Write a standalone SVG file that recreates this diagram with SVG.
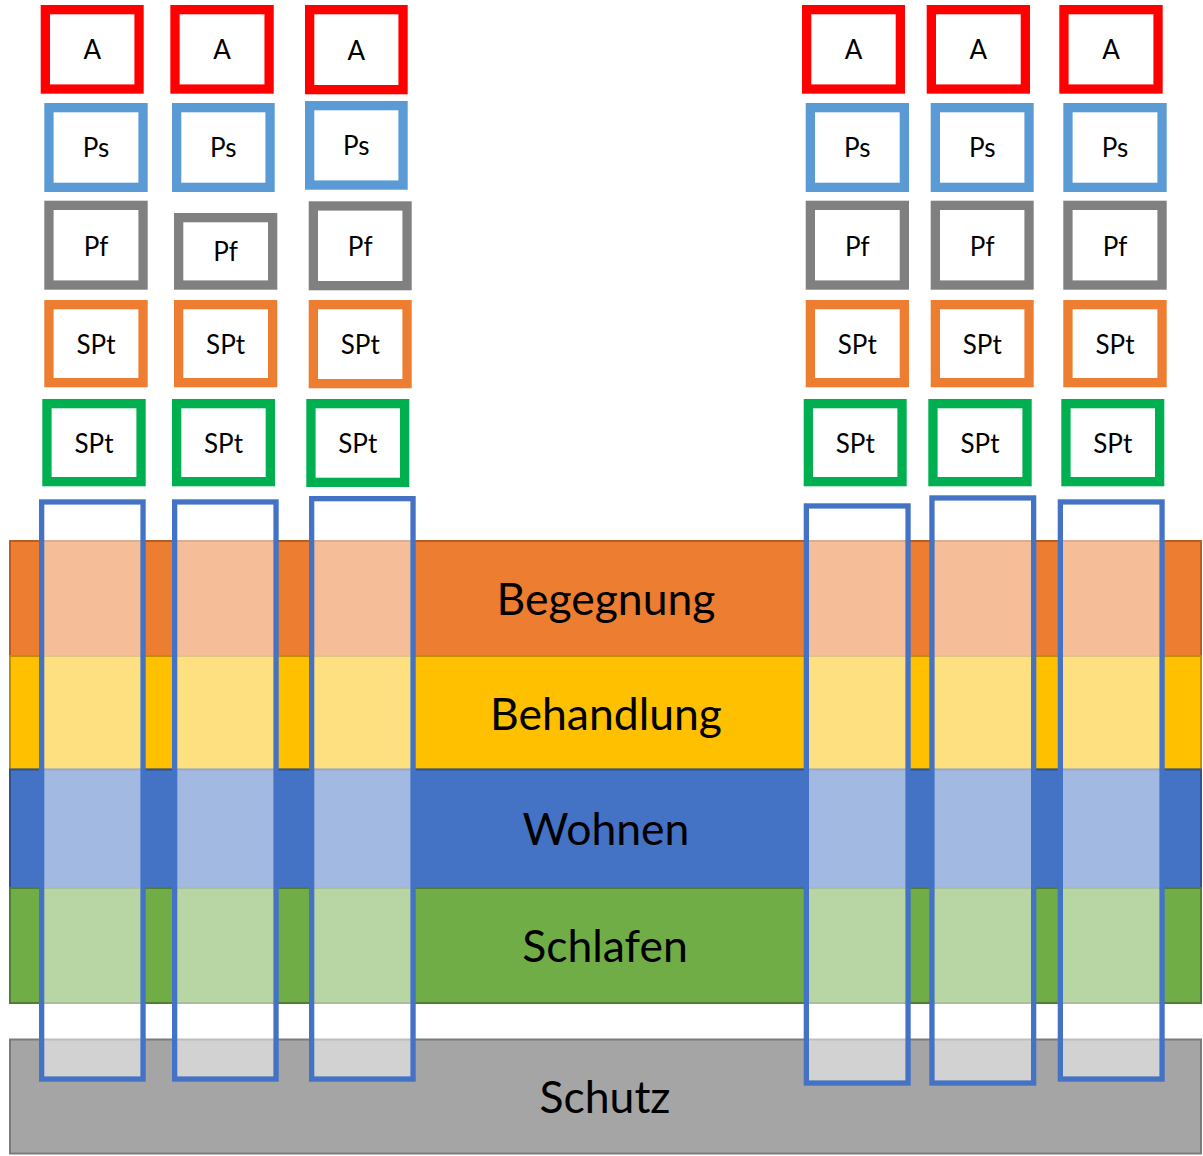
<svg xmlns="http://www.w3.org/2000/svg" width="1203" height="1156" viewBox="0 0 1203 1156">
<style>
.bx{fill:#fff;stroke-width:9.3}
.a{stroke:#FF0000}
.ps{stroke:#5B9BD5}
.pf{stroke:#808080}
.so{stroke:#ED7D31}
.sg{stroke:#00B050}
.t{font-family:Lato,"Open Sans","Liberation Sans",sans-serif;font-size:26px;fill:#000;text-anchor:middle}
.bt{font-family:Lato,"Open Sans","Liberation Sans",sans-serif;font-size:44.5px;fill:#000;text-anchor:middle}
.band{stroke-width:2}
.col{fill:#fff;fill-opacity:0.5;stroke:#4472C4;stroke-width:5.3}
</style>
<rect width="1203" height="1156" fill="#fff"/>
<g id="layers">
<g id="begegnung"><rect class="band" x="10" y="541" width="1191" height="115" fill="#ED7D31" stroke="#B55D22"/><text class="bt" x="606" y="615">Begegnung</text></g>
<g id="behandlung"><rect class="band" x="10" y="656" width="1191" height="113.5" fill="#FFC000" stroke="#BF8F00"/><text class="bt" x="606" y="730">Behandlung</text></g>
<g id="wohnen"><rect class="band" x="10" y="769.5" width="1191" height="118.5" fill="#4472C4" stroke="#2F528F"/><text class="bt" x="606" y="845">Wohnen</text></g>
<g id="schlafen"><rect class="band" x="10" y="888" width="1191" height="115" fill="#70AD47" stroke="#507E32"/><text class="bt" x="605" y="962">Schlafen</text></g>
<g id="schutz"><rect class="band" x="10" y="1039.5" width="1191" height="114" fill="#A5A5A5" stroke="#7B7B7B"/><text class="bt" x="605" y="1113">Schutz</text></g>
</g>
<g id="columns">
<rect id="col1" class="col" x="41.65" y="501.95" width="101.4" height="577.1"/>
<rect id="col2" class="col" x="174.65" y="501.95" width="101.4" height="577.1"/>
<rect id="col3" class="col" x="311.65" y="498.65" width="101.4" height="580.4"/>
<rect id="col4" class="col" x="806.35" y="505.95" width="101.7" height="577.1"/>
<rect id="col5" class="col" x="931.95" y="497.95" width="101.7" height="585.1"/>
<rect id="col6" class="col" x="1060.35" y="501.95" width="101.7" height="577.1"/>
</g>
<g id="c1a"><rect class="bx a" x="45.35" y="9.65" width="93.7" height="79.4"/><text class="t" x="92.2" y="59">A</text></g>
<g id="c1ps"><rect class="bx ps" x="48.95" y="107.65" width="94.1" height="79.7"/><text class="t" x="96" y="157">Ps</text></g>
<g id="c1pf"><rect class="bx pf" x="48.95" y="205.35" width="94.1" height="79.7"/><text class="t" x="96" y="256">Pf</text></g>
<g id="c1so"><rect class="bx so" x="48.95" y="304.65" width="94.1" height="78"/><text class="t" x="96" y="354">SPt</text></g>
<g id="c1sg"><rect class="bx sg" x="46.95" y="403.65" width="94.1" height="78"/><text class="t" x="94" y="452.5">SPt</text></g>

<g id="c2a"><rect class="bx a" x="175" y="9.65" width="94.1" height="79.4"/><text class="t" x="222" y="59">A</text></g>
<g id="c2ps"><rect class="bx ps" x="176.65" y="107.65" width="93.4" height="79.7"/><text class="t" x="223.3" y="157">Ps</text></g>
<g id="c2pf"><rect class="bx pf" x="178.65" y="217.65" width="94" height="67.4"/><text class="t" x="225.6" y="261">Pf</text></g>
<g id="c2so"><rect class="bx so" x="178.65" y="304.65" width="94" height="78"/><text class="t" x="225.6" y="354">SPt</text></g>
<g id="c2sg"><rect class="bx sg" x="176.65" y="403.65" width="93.7" height="78"/><text class="t" x="223.5" y="452.5">SPt</text></g>

<g id="c3a"><rect class="bx a" x="309.65" y="9.65" width="93.4" height="80"/><text class="t" x="356.3" y="60">A</text></g>
<g id="c3ps"><rect class="bx ps" x="309.65" y="105.65" width="93.4" height="79.4"/><text class="t" x="356.3" y="155">Ps</text></g>
<g id="c3pf"><rect class="bx pf" x="313.35" y="205.95" width="93.7" height="79.7"/><text class="t" x="360.2" y="256">Pf</text></g>
<g id="c3so"><rect class="bx so" x="313.35" y="304.65" width="93.7" height="79"/><text class="t" x="360.2" y="354">SPt</text></g>
<g id="c3sg"><rect class="bx sg" x="310.95" y="403.65" width="93.7" height="78.7"/><text class="t" x="357.8" y="453">SPt</text></g>

<g id="c4a"><rect class="bx a" x="806.65" y="9.65" width="93.7" height="79.4"/><text class="t" x="853.5" y="59">A</text></g>
<g id="c4ps"><rect class="bx ps" x="810.35" y="107.65" width="94" height="79.7"/><text class="t" x="857.3" y="157">Ps</text></g>
<g id="c4pf"><rect class="bx pf" x="810.35" y="205.35" width="94" height="79.7"/><text class="t" x="857.3" y="256">Pf</text></g>
<g id="c4so"><rect class="bx so" x="810.35" y="304.65" width="94" height="78"/><text class="t" x="857.3" y="354">SPt</text></g>
<g id="c4sg"><rect class="bx sg" x="808.35" y="403.65" width="93.7" height="78"/><text class="t" x="855.2" y="452.5">SPt</text></g>

<g id="c5a"><rect class="bx a" x="931.35" y="9.65" width="94" height="79.4"/><text class="t" x="978.3" y="59">A</text></g>
<g id="c5ps"><rect class="bx ps" x="935.35" y="107.65" width="93.7" height="79.7"/><text class="t" x="982.2" y="157">Ps</text></g>
<g id="c5pf"><rect class="bx pf" x="935.35" y="205.35" width="93.7" height="79.7"/><text class="t" x="982.2" y="256">Pf</text></g>
<g id="c5so"><rect class="bx so" x="935.35" y="304.65" width="93.7" height="78"/><text class="t" x="982.2" y="354">SPt</text></g>
<g id="c5sg"><rect class="bx sg" x="932.95" y="403.65" width="94.1" height="78"/><text class="t" x="980" y="452.5">SPt</text></g>

<g id="c6a"><rect class="bx a" x="1063.95" y="9.65" width="94.1" height="79.4"/><text class="t" x="1111" y="59">A</text></g>
<g id="c6ps"><rect class="bx ps" x="1067.95" y="107.65" width="94.1" height="79.7"/><text class="t" x="1115" y="157">Ps</text></g>
<g id="c6pf"><rect class="bx pf" x="1067.95" y="205.35" width="94.1" height="79.7"/><text class="t" x="1115" y="256">Pf</text></g>
<g id="c6so"><rect class="bx so" x="1067.95" y="304.65" width="94.1" height="78"/><text class="t" x="1115" y="354">SPt</text></g>
<g id="c6sg"><rect class="bx sg" x="1065.95" y="403.65" width="93.7" height="78"/><text class="t" x="1112.8" y="452.5">SPt</text></g>
</svg>
